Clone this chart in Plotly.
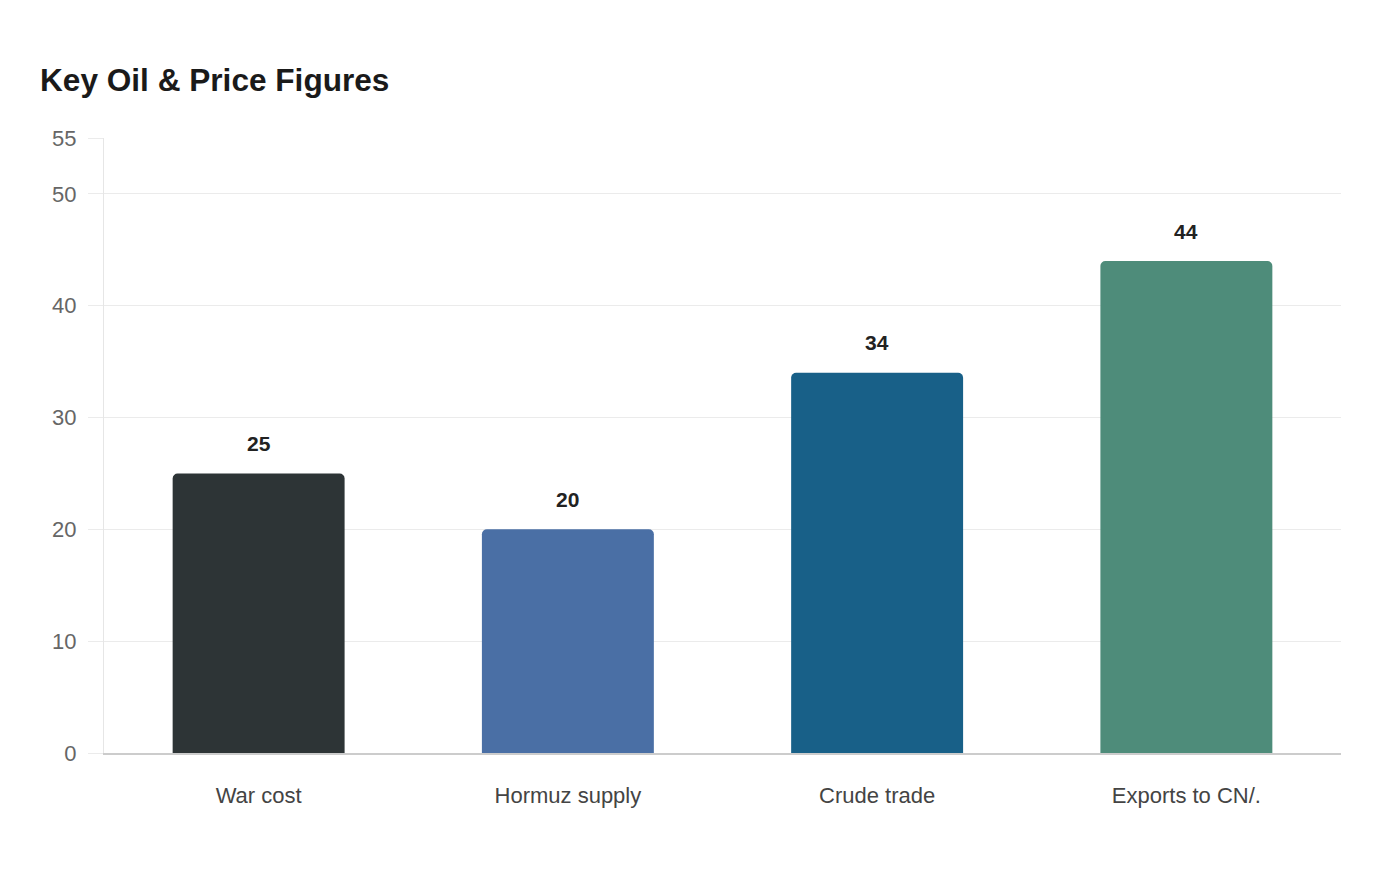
import plotly.graph_objects as go

categories = ["War cost", "Hormuz supply", "Crude trade", "Exports to CN/."]
values = [25, 20, 34, 44]
colors = ["#2d3436", "#4a6fa5", "#186088", "#4e8c7a"]
y_ticks = [0, 10, 20, 30, 40, 50, 55]

fig = go.Figure()
fig.add_trace(go.Bar(
    x=categories, y=values,
    marker=dict(color=colors, line=dict(width=0)),
    hoverinfo="x+y",
))

for c, v in zip(categories, values):
    fig.add_annotation(x=c, y=v, text=f"<b>{v}</b>", showarrow=False,
                       yshift=30, font=dict(size=21, color="#222222",
                                            family="Liberation Sans, Arial, sans-serif"))

fig.update_layout(
    width=1400, height=880,
    paper_bgcolor="white", plot_bgcolor="white",
    font=dict(family="Liberation Sans, Arial, sans-serif"),
    title=dict(text="<b>Key Oil & Price Figures</b>", x=32/1400, xanchor="left",
               y=1-72/880, yanchor="middle",
               font=dict(size=31.6, color="#1a1a1a")),
    margin=dict(l=96, r=67, t=130, b=135),
    bargap=0.444,
    barcornerradius=5,
    showlegend=False,
    xaxis=dict(
        showline=True, linecolor="#cccccc", linewidth=2,
        ticks="outside", ticklen=22, tickcolor="rgba(0,0,0,0)",
        tickfont=dict(size=22, color="#444444"),
        showgrid=False,
    ),
    yaxis=dict(
        range=[0, 55], tickvals=y_ticks,
        showline=True, linecolor="#e6e6e6", linewidth=1,
        showgrid=True, gridcolor="#ebebeb", gridwidth=1,
        ticks="outside", ticklen=15, tickcolor="#ebebeb",
        ticklabelstandoff=7,
        tickfont=dict(size=22, color="#666666"),
        zeroline=False,
    ),
)

fig.write_html("out.html")
